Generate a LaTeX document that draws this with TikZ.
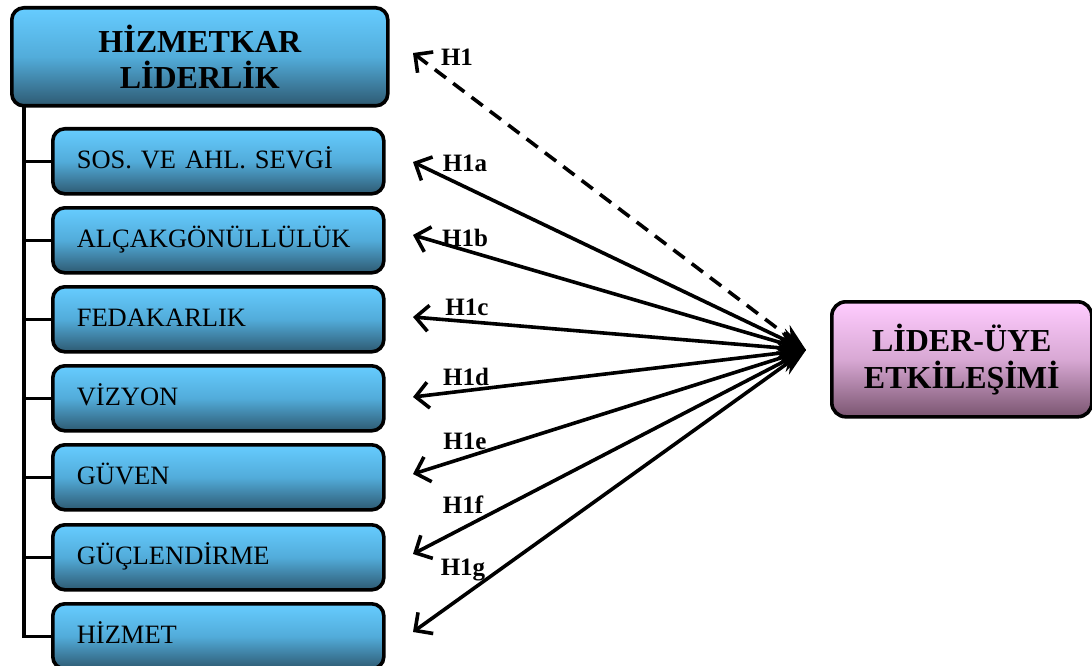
\documentclass[tikz,border=0pt]{standalone}
\usepackage{fontspec}
\setmainfont{Liberation Serif}
\usetikzlibrary{arrows.meta,calc}
\definecolor{bluetop}{HTML}{66CCFF}
\definecolor{bluemid}{HTML}{52ACDA}
\definecolor{bluebot}{HTML}{2E5A72}
\definecolor{pinktop}{HTML}{FFCCFF}
\definecolor{pinkmid}{HTML}{D8A8D4}
\definecolor{pinkbot}{HTML}{7A5570}
\tikzset{
  bluebox/.style={draw=black, line width=3.6pt, rounded corners=12pt,
    top color=bluetop, bottom color=bluebot, middle color=bluemid},
  subbox/.style={bluebox, minimum width=331pt, minimum height=65pt,
    text width=283pt, inner xsep=24pt, align=left, anchor=north west,
    font=\fontsize{26.5}{29}\selectfont, text height=19pt, text depth=5pt},
  pinkbox/.style={draw=black, line width=3.6pt, rounded corners=14pt,
    top color=pinktop, bottom color=pinkbot, middle color=pinkmid},
  hyp/.style={line width=3.6pt, {Straight Barb[length=13pt,width=26pt,line width=3.6pt]}-{Stealth[length=28pt,width=20pt]}},
  hlabel/.style={font=\bfseries\fontsize{25}{28}\selectfont, inner sep=0pt},
  link/.style={line width=3.6pt}
}
\begin{document}
\begin{tikzpicture}[x=1pt,y=-1pt]
\useasboundingbox (0,0) rectangle (1092,666);
% top box
\node[bluebox, minimum width=376pt, minimum height=98pt, anchor=north west,
  align=center, font=\bfseries\fontsize{32}{36}\selectfont] (top) at (10,6)
  {HİZMETKAR\\LİDERLİK};
% sub boxes
\node[subbox] (s1) at (51,127) {SOS. VE AHL. SEVGİ};
\node[subbox] (s2) at (51,206) {ALÇAKGÖNÜLLÜLÜK};
\node[subbox] (s3) at (51,285) {FEDAKARLIK};
\node[subbox] (s4) at (51,364) {VİZYON};
\node[subbox] (s5) at (51,443) {GÜVEN};
\node[subbox] (s6) at (51,523) {GÜÇLENDİRME};
\node[subbox] (s7) at (51,602) {HİZMET};
% spine
\coordinate (spine) at (24,104);
\draw[link] (spine) |- (s7.west);
\foreach \i in {1,...,6} \draw[link] (spine |- s\i.west) -- (s\i.west);
% right box
\node[pinkbox, minimum width=260pt, minimum height=115pt, anchor=north west,
  align=center, font=\bfseries\fontsize{32}{37}\selectfont] (lmx) at (830,300)
  {LİDER-ÜYE\\ETKİLEŞİMİ};
% hub and tips
\coordinate (hub) at (806,350);
\coordinate (t0) at (413,53);
\coordinate (t1) at (413,162);
\coordinate (t2) at (413,235);
\coordinate (t3) at (413,317);
\coordinate (t4) at (413,397);
\coordinate (t5) at (413,474);
\coordinate (t6) at (413,554);
\coordinate (t7) at (413,632);
\draw[hyp, dash pattern=on 14pt off 9pt] (t0) -- (hub);
\foreach \i in {1,...,7} \draw[hyp] (t\i) -- (hub);
% labels
\node[hlabel] (l0) at (457,57) {H1};
\node[hlabel] (l1) at (465,163) {H1a};
\node[hlabel] (l2) at (465,238) {H1b};
\node[hlabel] (l3) at (467,307) {H1c};
\node[hlabel] (l4) at (466,377) {H1d};
\node[hlabel] (l5) at (465,441) {H1e};
\node[hlabel] (l6) at (463,505) {H1f};
\node[hlabel] (l7) at (463,570) {H1g};
\end{tikzpicture}
\end{document}
